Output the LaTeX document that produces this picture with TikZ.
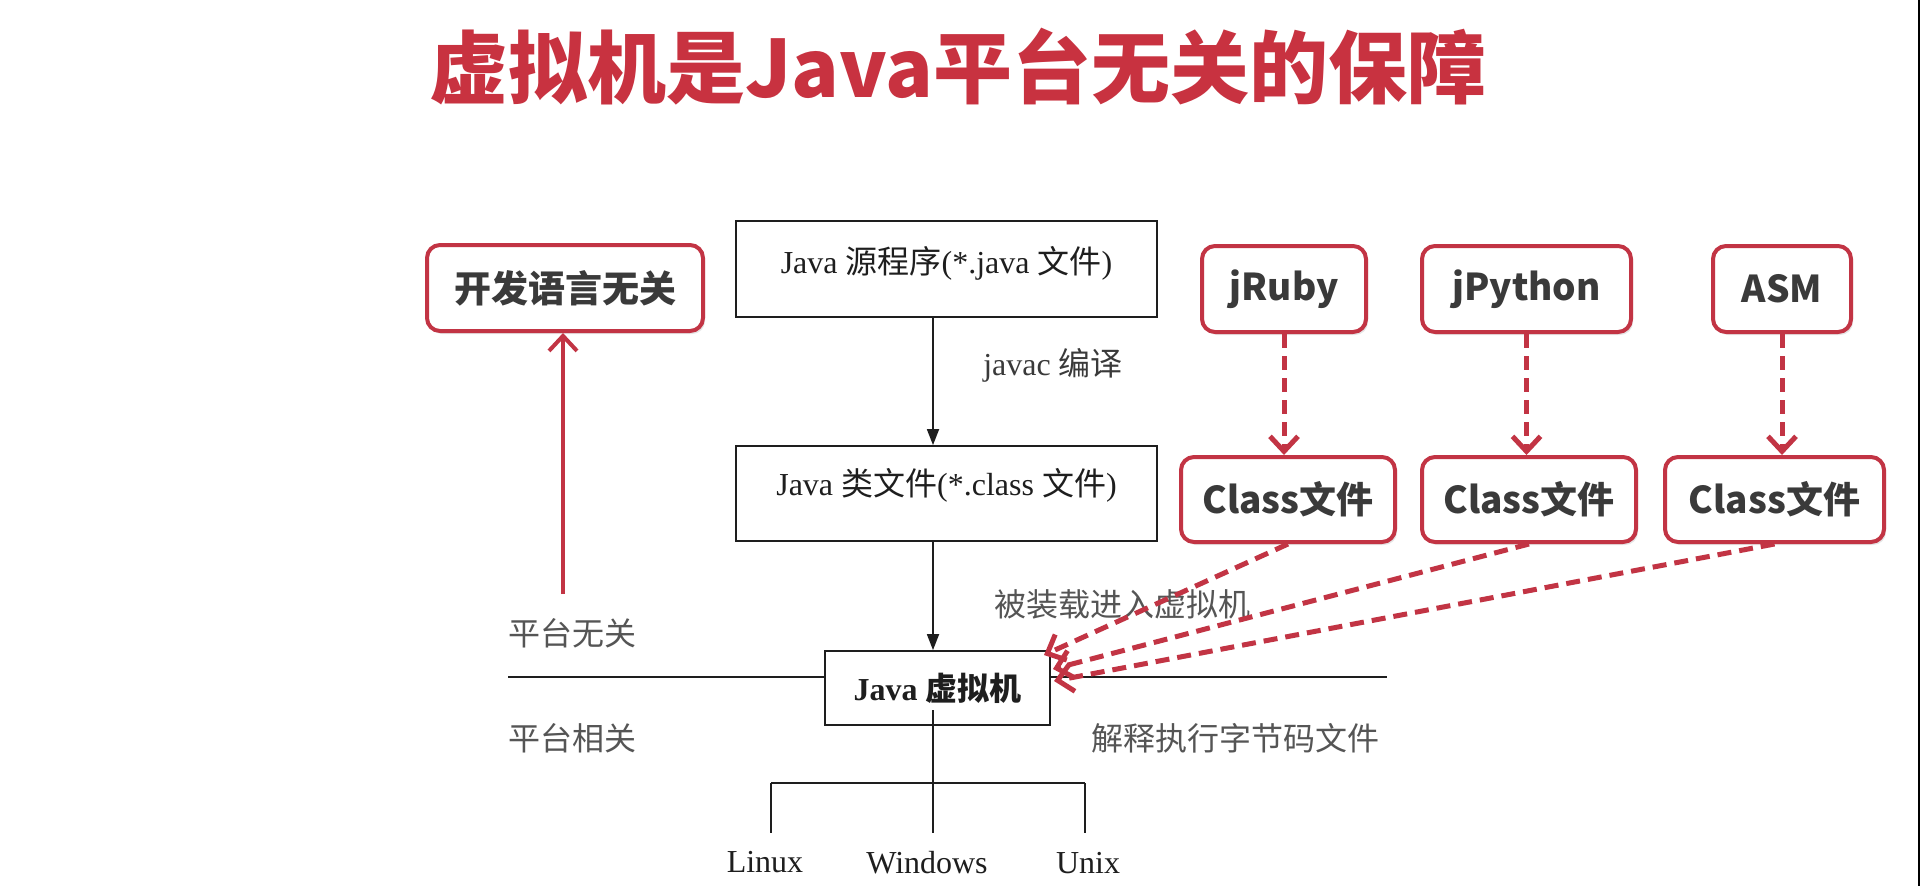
\documentclass[tikz,border=0pt]{standalone}
\usepackage{fontspec}
\setmainfont{Liberation Serif}
\newfontfamily\cjk{Noto Sans CJK SC}
\usetikzlibrary{arrows.meta,shadows}
\definecolor{jred}{RGB}{194,52,68}
\definecolor{ttl}{RGB}{200,50,64}
\definecolor{dtext}{RGB}{58,58,58}
\definecolor{gtext}{RGB}{85,85,85}
\definecolor{ink}{RGB}{30,30,30}
\begin{document}
\begin{tikzpicture}[x=1pt,y=-1pt,
  redbox/.style={draw=jred, line width=4pt, rounded corners=13pt, fill=white,
    drop shadow={shadow xshift=2pt,shadow yshift=-3pt,opacity=0.2},
    font=\cjk\bfseries\fontsize{37}{40}\selectfont, text=dtext, inner sep=0pt},
  blackbox/.style={draw=ink, line width=1.8pt, fill=white, inner sep=0pt,
    font=\fontsize{32}{36}\selectfont, text=ink},
  lbl/.style={inner sep=0pt, font=\fontsize{32}{36}\selectfont, text=gtext},
  flow/.style={draw=ink, line width=1.8pt, -{Triangle[length=16pt,width=12pt]}},
  redarrow/.style={draw=jred, line width=4pt, -{Straight Barb[length=15pt,width=28pt]}},
  reddash/.style={draw=jred, line width=5pt, dash pattern=on 14pt off 8pt,
    -{Straight Barb[length=15pt,width=28pt]}},
  plain/.style={draw=ink, line width=1.8pt},
]
\useasboundingbox (0,0) rectangle (1920,886);
\fill[white] (0,0) rectangle (1920,886);
\fill[black] (1917.5,0) rectangle (1920,886);

% title
\node (title) at (958,67) [inner sep=0pt, text=ttl, font=\cjk\bfseries\fontsize{79}{84}\selectfont] {虚拟机是Java平台无关的保障};

% left side
\node[redbox, minimum width=276pt, minimum height=86pt] (lang) at (565,288) {开发语言无关};
\coordinate (pa) at (563,594);
\draw[redarrow] (pa) -- (pa |- lang.south);
\node[lbl] (pi) at (572,633) {\cjk 平台无关};
\node[lbl] (pd) at (572,738) {\cjk 平台相关};

% separator line
\coordinate (hl) at (508,677);
\coordinate (hr) at (1387,677);
\draw[plain] (hl) -- (hr);

% central flow
\node[blackbox, minimum width=421pt, minimum height=96pt, text height=22pt, text depth=14pt] (src) at (946.5,269) {Java {\cjk 源程序}(*.java {\cjk 文件})};
\node[blackbox, minimum width=421pt, minimum height=95pt, text height=22pt, text depth=18pt] (cls) at (946.5,493.5) {Java {\cjk 类文件}(*.class {\cjk 文件})};
\node[blackbox, minimum width=225pt, minimum height=74pt] (jvm) at (937.5,688) {\textbf{Java} {\cjk\bfseries 虚拟机}};

\draw[flow] ([xshift=-13.5pt]src.south) -- ([xshift=-13.5pt]cls.north);
\draw[flow] ([xshift=-13.5pt]cls.south) -- ([xshift=-4.5pt]jvm.north);

\node[lbl, text=dtext] (javac) at (1053,365) {javac {\cjk 编译}};
\node[lbl] (load) at (1122,604) {\cjk 被装载进入虚拟机};
\node[lbl] (interp) at (1235,738) {\cjk 解释执行字节码文件};

% OS tree
\coordinate (v0) at (933,710);
\coordinate (v1) at (933,833);
\coordinate (bl) at (771,783);
\coordinate (br) at (1085,783);
\coordinate (bll) at (771,833);
\coordinate (brl) at (1085,833);
\draw[plain] (v0) -- (v1);
\draw[plain] (bl) -- (br);
\draw[plain] (bl) -- (bll);
\draw[plain] (br) -- (brl);
\node[lbl, text=ink] (linux) at (765,862) {Linux};
\node[lbl, text=ink] (win) at (927,863) {Windows};
\node[lbl, text=ink] (unix) at (1088,863) {Unix};

% right side languages
\node[redbox, minimum width=164pt, minimum height=86pt] (jruby) at (1284,289) {jRuby};
\node[redbox, minimum width=209pt, minimum height=86pt] (jpy) at (1526.5,289) {jPython};
\node[redbox, minimum width=138pt, minimum height=86pt] (asm) at (1782,289) {ASM};
\node[redbox, minimum width=214pt, minimum height=85pt] (c1) at (1288,499.5) {Class文件};
\node[redbox, minimum width=214pt, minimum height=85pt] (c2) at (1529,499.5) {Class文件};
\node[redbox, minimum width=219pt, minimum height=85pt] (c3) at (1774.5,499.5) {Class文件};

\draw[reddash] (jruby.south) -- (jruby.south |- c1.north);
\draw[reddash] (jpy.south) -- (jpy.south |- c2.north);
\draw[reddash] (asm.south) -- (asm.south |- c3.north);

\coordinate (t1) at (1044,655);
\coordinate (t2) at (1053,669);
\coordinate (t3) at (1054,681);
\draw[reddash] (c1.south) -- (t1);
\draw[reddash] (c2.south) -- (t2);
\draw[reddash] (c3.south) -- (t3);
\end{tikzpicture}
\end{document}
